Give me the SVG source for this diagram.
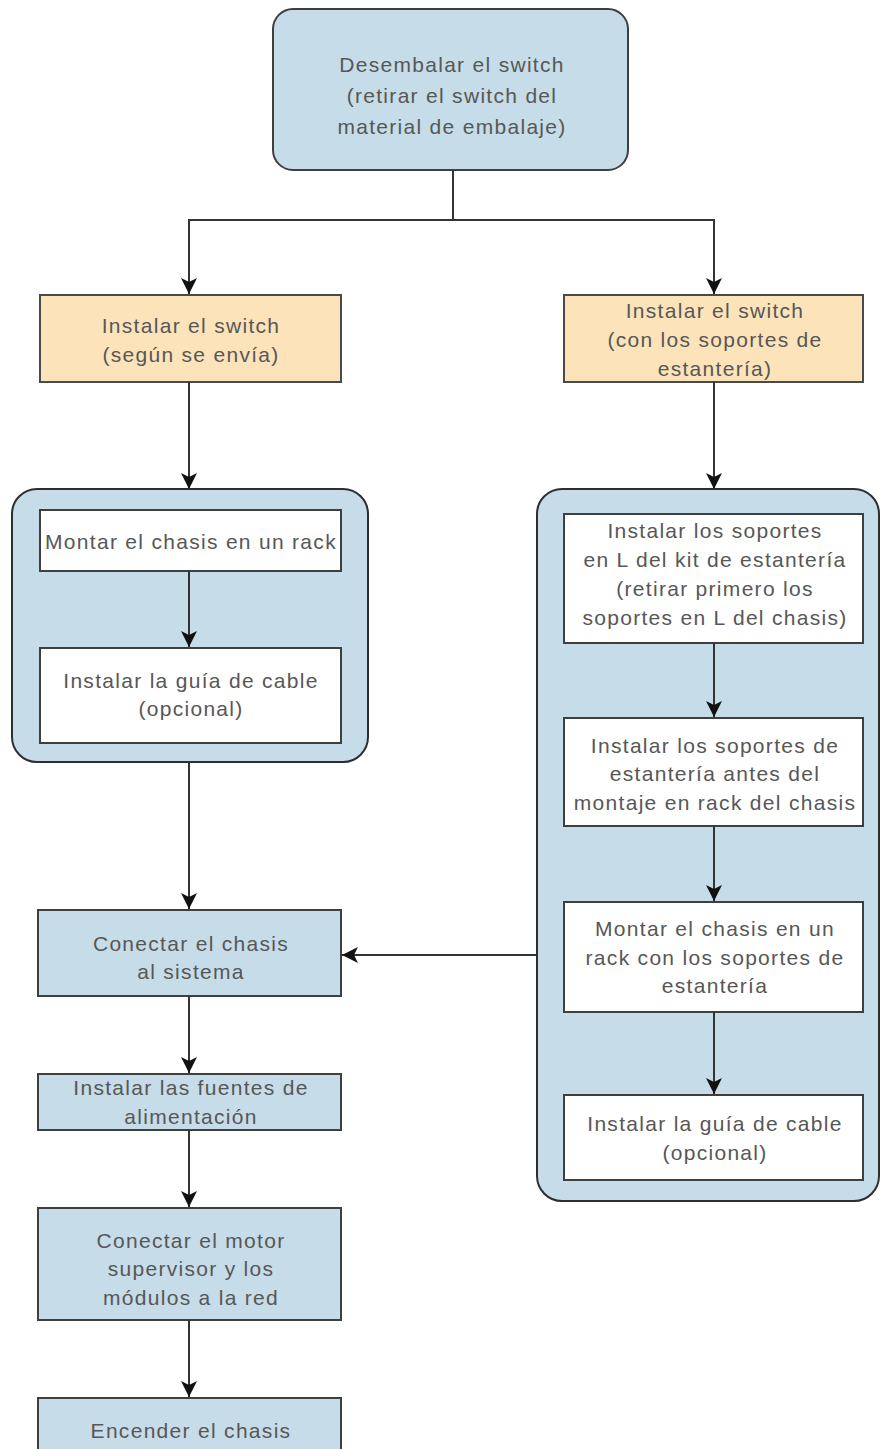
<svg xmlns="http://www.w3.org/2000/svg" width="880" height="1449" viewBox="0 0 880 1449">
<style>
.blue{fill:#c6dce8;stroke:#3f3f3f;stroke-width:2}
.orange{fill:#fde3ba;stroke:#4a4a4a;stroke-width:2}
.white{fill:#ffffff;stroke:#3f3f3f;stroke-width:2}
.grp{fill:#c6dce8;stroke:#2e2e2e;stroke-width:2}
text{font-family:"Liberation Sans",Arial,sans-serif;font-size:21px;letter-spacing:1.3px;fill:#575757;text-anchor:middle}
.conn line,.conn path{stroke:#333333;stroke-width:2;fill:none}
</style>
<defs>
<marker id="arr" markerUnits="userSpaceOnUse" markerWidth="16" markerHeight="18" viewBox="0 0 16 18" refX="16" refY="9" orient="auto">
<path d="M0,1 L16,9 L0,17 L4,9 Z" fill="#111111"/>
</marker>
</defs>

<g id="n-desembalar">
<rect class="blue" x="273" y="9" width="355" height="161" rx="20"/>
<text x="452" y="72">Desembalar el switch</text>
<text x="452" y="103">(retirar el switch del</text>
<text x="452" y="134">material de embalaje)</text>
</g>

<g id="n-instalar-envia">
<rect class="orange" x="40" y="295" width="301" height="87"/>
<text x="191" y="333">Instalar el switch</text>
<text x="191" y="362">(según se envía)</text>
</g>

<g id="n-instalar-soportes">
<rect class="orange" x="564" y="295" width="299" height="87"/>
<text x="715" y="318">Instalar el switch</text>
<text x="715" y="347">(con los soportes de</text>
<text x="715" y="376">estantería)</text>
</g>

<g id="g-left">
<rect class="grp" x="12" y="489" width="356" height="273" rx="25"/>
</g>
<g id="g-right">
<rect class="grp" x="537" y="489" width="342" height="712" rx="25"/>
</g>

<g id="n-montar-rack">
<rect class="white" x="40" y="510" width="301" height="61"/>
<text x="191" y="549">Montar el chasis en un rack</text>
</g>

<g id="n-guia-left">
<rect class="white" x="40" y="648" width="301" height="95"/>
<text x="191" y="688">Instalar la guía de cable</text>
<text x="191" y="716">(opcional)</text>
</g>

<g id="n-soportes-L">
<rect class="white" x="564" y="514" width="299" height="129"/>
<text x="715" y="538">Instalar los soportes</text>
<text x="715" y="567">en L del kit de estantería</text>
<text x="715" y="596">(retirar primero los</text>
<text x="715" y="625">soportes en L del chasis)</text>
</g>

<g id="n-soportes-estanteria">
<rect class="white" x="564" y="718" width="299" height="108"/>
<text x="715" y="753">Instalar los soportes de</text>
<text x="715" y="781">estantería antes del</text>
<text x="715" y="810">montaje en rack del chasis</text>
</g>

<g id="n-montar-estanteria">
<rect class="white" x="564" y="902" width="299" height="110"/>
<text x="715" y="936">Montar el chasis en un</text>
<text x="715" y="965">rack con los soportes de</text>
<text x="715" y="993">estantería</text>
</g>

<g id="n-guia-right">
<rect class="white" x="564" y="1095" width="299" height="85"/>
<text x="715" y="1131">Instalar la guía de cable</text>
<text x="715" y="1160">(opcional)</text>
</g>

<g id="n-conectar-chasis">
<rect class="blue" x="38" y="910" width="303" height="86"/>
<text x="191" y="951">Conectar el chasis</text>
<text x="191" y="979">al sistema</text>
</g>

<g id="n-fuentes">
<rect class="blue" x="38" y="1074" width="303" height="56"/>
<text x="191" y="1095">Instalar las fuentes de</text>
<text x="191" y="1124">alimentación</text>
</g>

<g id="n-motor">
<rect class="blue" x="38" y="1208" width="303" height="112"/>
<text x="191" y="1248">Conectar el motor</text>
<text x="191" y="1276">supervisor y los</text>
<text x="191" y="1305">módulos a la red</text>
</g>

<g id="n-encender">
<rect class="blue" x="38" y="1398" width="303" height="60"/>
<text x="191" y="1438">Encender el chasis</text>
</g>

<g id="connectors" class="conn">
<path d="M453,170 V220 H189 V294" marker-end="url(#arr)"/>
<path d="M453,220 H714 V294" marker-end="url(#arr)"/>
<line x1="189" y1="382" x2="189" y2="489" marker-end="url(#arr)"/>
<line x1="714" y1="382" x2="714" y2="489" marker-end="url(#arr)"/>
<line x1="189" y1="571" x2="189" y2="647" marker-end="url(#arr)"/>
<line x1="189" y1="762" x2="189" y2="909" marker-end="url(#arr)"/>
<line x1="714" y1="643" x2="714" y2="717" marker-end="url(#arr)"/>
<line x1="714" y1="826" x2="714" y2="901" marker-end="url(#arr)"/>
<line x1="714" y1="1012" x2="714" y2="1094" marker-end="url(#arr)"/>
<line x1="537" y1="955" x2="342" y2="955" marker-end="url(#arr)"/>
<line x1="189" y1="996" x2="189" y2="1073" marker-end="url(#arr)"/>
<line x1="189" y1="1130" x2="189" y2="1207" marker-end="url(#arr)"/>
<line x1="189" y1="1320" x2="189" y2="1397" marker-end="url(#arr)"/>
</g>
</svg>
